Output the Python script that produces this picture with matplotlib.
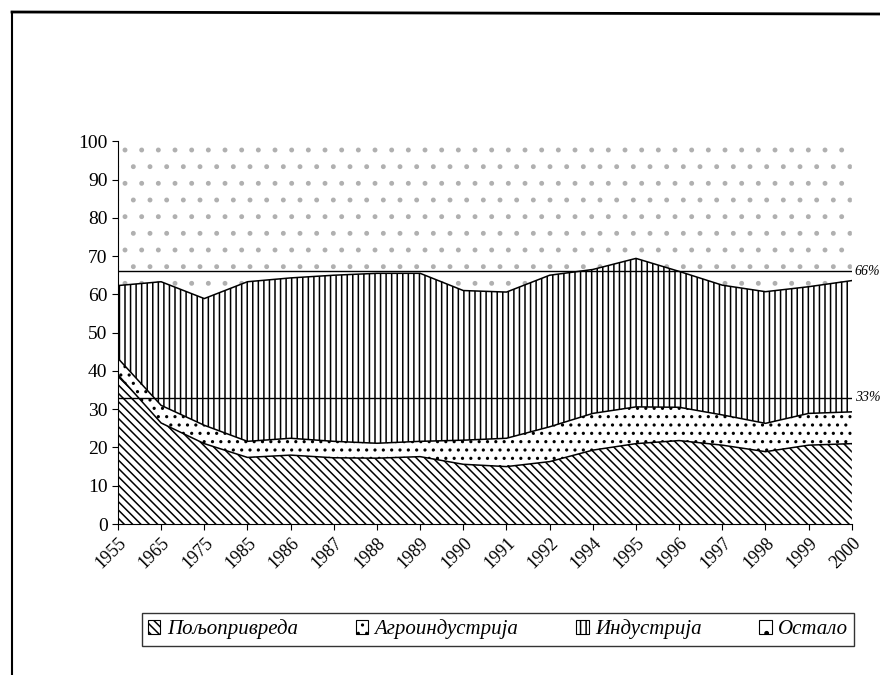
import numpy as np
import matplotlib.pyplot as plt
from matplotlib.lines import Line2D

# data
years = ['1955', '1965', '1975', '1985', '1986', '1987', '1988', '1989', '1990',
         '1991', '1992', '1994', '1995', '1996', '1997', '1998', '1999', '2000']
agri = [39.0, 26.4, 21.0, 17.4, 18.0, 17.3, 17.2, 17.6, 15.6,
        15.0, 16.3, 19.3, 21.0, 21.8, 20.6, 18.9, 20.6, 21.0]
agro_top = [43.3, 31.0, 25.8, 21.6, 22.4, 21.6, 21.1, 21.6, 21.9,
            22.4, 25.4, 28.9, 30.6, 30.5, 28.5, 26.3, 28.9, 29.3]
ind_top = [62.3, 63.3, 58.9, 63.3, 64.3, 65.0, 65.5, 65.5, 61.0,
           60.6, 65.0, 66.5, 69.4, 66.0, 62.4, 60.7, 62.0, 63.6]
labels = ['Пољопривреда', 'Агроиндустрија', 'Индустрија', 'Остало']
hatches = ['\\\\\\\\', '..', '|||', '.']
hatch_colors = ['black', 'black', 'black', '#b0b0b0']
ref_lines = [66, 33]

plt.rcParams['hatch.linewidth'] = 1.1
serif = ['Liberation Serif', 'DejaVu Serif']

fig = plt.figure(figsize=(8.8, 6.75), dpi=100)
ax = fig.add_axes([0.134, 0.2237, 0.834, 0.567])

x = np.arange(len(years))
bounds = [np.zeros(len(years)), np.array(agri), np.array(agro_top),
          np.array(ind_top), np.full(len(years), 100.0)]
for i in range(4):
    ax.fill_between(x, bounds[i], bounds[i + 1], facecolor='white',
                    edgecolor=hatch_colors[i], hatch=hatches[i], linewidth=0.0)
    if i < 3:
        ax.plot(x, bounds[i + 1], color='black', lw=1.1)

for v in ref_lines:
    ax.axhline(v, color='black', lw=1.0)
    ax.text(len(years) - 1 + 0.07, v, f'{v}%', fontsize=10, style='italic',
            family=serif, va='center', ha='left', clip_on=False)

ax.set_xlim(0, len(years) - 1)
ax.set_ylim(0, 100)
ax.set_yticks(range(0, 101, 10))
ax.set_xticks(x)
ax.set_xticklabels(years, rotation=45, ha='right', rotation_mode='anchor')
for t in ax.get_yticklabels():
    t.set_family(serif)
    t.set_fontsize(14)
for t in ax.get_xticklabels():
    t.set_family(serif)
    t.set_fontsize(13)
ax.tick_params(direction='out', length=4, width=0.8)
for s in ['top', 'right']:
    ax.spines[s].set_visible(False)

handles = [plt.Rectangle((0, 0), 1, 1, facecolor='white', edgecolor='black',
                         hatch=h, lw=0.8) for h in hatches]
leg = fig.legend(handles, labels, loc='center', ncol=4,
                 bbox_to_anchor=(0.161, 0.0415, 0.81, 0.052), mode='expand',
                 prop={'family': serif, 'style': 'italic', 'size': 15},
                 frameon=True, fancybox=False, edgecolor='black',
                 handlelength=0.6, handleheight=0.6, handletextpad=0.3,
                 columnspacing=0.5, borderaxespad=0, borderpad=0.3)
leg.get_frame().set_linewidth(1.0)

# scanned page frame
fig.add_artist(Line2D([12 / 880, 1], [1 - 12 / 675, 1 - 14 / 675],
                      color='black', lw=2, transform=fig.transFigure))
fig.add_artist(Line2D([12 / 880, 12 / 880], [1 - 12 / 675, 0],
                      color='black', lw=1.5, transform=fig.transFigure))

fig.savefig('out.png', dpi=100)
